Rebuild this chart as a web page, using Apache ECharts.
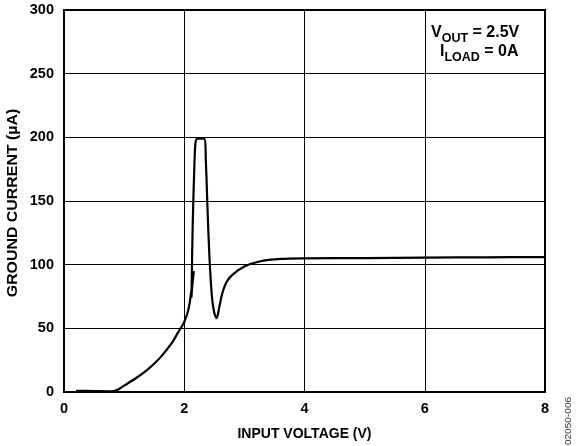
<!DOCTYPE html>
<html><head><meta charset="utf-8">
<script src="https://cdn.jsdelivr.net/npm/echarts@6/dist/echarts.min.js"></script>
<style>html,body{margin:0;padding:0;background:#fff}#c{width:587px;height:446px}</style>
</head><body><div id="c"></div>
<script>
// Input voltage (V) and ground current (µA)
const inputVoltage = [0.2, 0.5, 0.8, 0.9, 1.0, 1.2, 1.4, 1.6, 1.8, 1.9, 2.0, 2.07, 2.12, 2.15, 2.16, 2.13, 2.12, 2.14, 2.17, 2.19, 2.22, 2.33, 2.36, 2.39, 2.42, 2.46, 2.5, 2.54, 2.58, 2.63, 2.7, 2.8, 3.0, 3.25, 3.6, 4.0, 5.0, 6.0, 7.0, 8.0];
const groundCurrent = [1, 0.8, 0.5, 2, 5, 11, 18, 27, 39, 47, 55, 65, 80, 92, 95, 82, 74, 130, 180, 197, 199, 199, 180, 140, 105, 75, 62, 58, 66, 77, 86, 92, 98.5, 102.5, 104.5, 105, 105.2, 105.5, 105.8, 106];
const xTicks = [0, 2, 4, 6, 8];
const yTicks = [0, 50, 100, 150, 200, 250, 300];
const xTitle = 'INPUT VOLTAGE (V)';
const yTitle = 'GROUND CURRENT (µA)';
const figureId = '02050-006';

const font = '"Liberation Sans", Arial, sans-serif';
const chart = echarts.init(document.getElementById('c'));
const rich = {
  m: {fontFamily: font, fontWeight: 'bold', fontSize: 16, fill: '#000', verticalAlign: 'top', lineHeight: 20},
  s: {fontFamily: font, fontWeight: 'bold', fontSize: 12.5, fill: '#000', verticalAlign: 'bottom', lineHeight: 20}
};
chart.setOption({
  animation: false,
  grid: {left: 64, right: 42, top: 10, bottom: 52, show: true, borderColor: '#000', borderWidth: 2, backgroundColor: 'transparent'},
  xAxis: {
    type: 'value', min: xTicks[0], max: xTicks[xTicks.length-1], interval: 2,
    name: xTitle, nameLocation: 'middle', nameGap: 35,
    nameTextStyle: {fontFamily: font, fontWeight: 'bold', fontSize: 14, color: '#000'},
    axisLine: {show: false}, axisTick: {show: false},
    axisLabel: {fontFamily: font, fontWeight: 'bold', fontSize: 14.5, color: '#000', margin: 9},
    splitLine: {show: true, lineStyle: {color: '#000', width: 1}}
  },
  yAxis: {
    type: 'value', min: yTicks[0], max: yTicks[yTicks.length-1], interval: 50,
    axisLine: {show: false}, axisTick: {show: false},
    axisLabel: {fontFamily: font, fontWeight: 'bold', fontSize: 14.5, color: '#000', margin: 10},
    splitLine: {show: true, lineStyle: {color: '#000', width: 1}}
  },
  series: [{
    type: 'line', showSymbol: false, smooth: 0.3,
    data: inputVoltage.map((v, i) => [v, groundCurrent[i]]),
    lineStyle: {color: '#000', width: 2.2}
  }],
  graphic: [
    {type: 'text', x: 13, y: 203, rotation: Math.PI/2, scaleX: 1.06, style: {
      text: yTitle, fontFamily: font, fontWeight: 'bold', fontSize: 15, fill: '#000',
      align: 'center', verticalAlign: 'middle'
    }},
    {type: 'text', left: 431, top: 25, style: {rich: rich, text: '{m|V}{s|OUT}{m| = 2.5V}'}},
    {type: 'text', left: 440, top: 44, style: {rich: rich, text: '{m|I}{s|LOAD}{m| = 0A}'}},
    {type: 'text', x: 569, y: 421, rotation: Math.PI/2, scaleX: 1.12, style: {
      text: figureId, fontFamily: font, fontSize: 9, fill: '#333', align: 'center', verticalAlign: 'middle'
    }}
  ]
});
</script></body></html>
